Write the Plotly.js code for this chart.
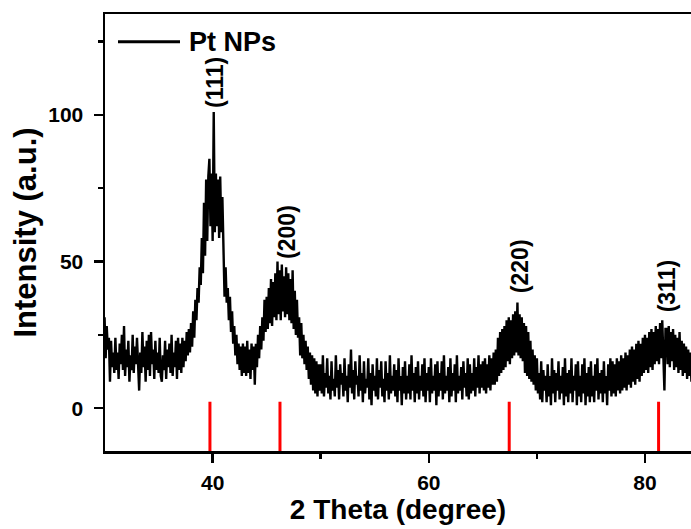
<!DOCTYPE html>
<html>
<head>
<meta charset="utf-8">
<script src="https://cdn.plot.ly/plotly-3.0.1.min.js"></script>
<style>html,body{margin:0;padding:0;background:#fff;}#chart{width:691px;height:529px;}</style>
</head>
<body>
<div id="chart"></div>
<script>
// 2-theta sampling: start and step of the scan (degrees)
const scanStart = 30.0;
const scanStep = 0.1;
// Intensity, one row per degree (30.0-30.9, 31.0-31.9, ... 84.0-84.4)
const intensity = [
  31, 17, 28, 20, 24, 9, 23, 14, 19, 12,
  24, 13, 19, 10, 22, 15, 25, 13, 28, 11,
  20, 14, 23, 9, 18, 13, 25, 12, 21, 15,
  24, 11, 6, 19, 12, 26, 14, 21, 9, 23,
  13, 25, 11, 26, 15, 20, 10, 23, 13, 19,
  12, 24, 11, 9, 18, 13, 23, 10, 20, 14,
  22, 12, 25, 11, 19, 14, 23, 10, 24, 13,
  22, 12, 24, 14, 23, 16, 26, 18, 27, 19,
  29, 21, 33, 24, 37, 30, 41, 36, 48, 42,
  58, 46, 70, 52, 78, 57, 79, 85, 62, 80,
  57, 101, 60, 80, 62, 78, 58, 79, 60, 72,
  50, 38, 48, 36, 41, 30, 38, 26, 33, 22,
  28, 18, 25, 15, 22, 13, 21, 11, 22, 12,
  21, 11, 23, 12, 20, 10, 22, 13, 21, 8,
  22, 14, 25, 17, 28, 20, 31, 23, 37, 26,
  38, 27, 41, 29, 44, 28, 43, 31, 46, 30,
  50, 32, 47, 30, 49, 33, 45, 31, 48, 32,
  46, 30, 44, 29, 47, 27, 40, 25, 37, 24,
  31, 18, 29, 17, 25, 15, 23, 13, 21, 10,
  19, 8, 18, 6, 17, 5, 16, 4, 15, 6,
  15, 5, 18, 4, 12, 7, 17, 5, 11, 3,
  16, 6, 10, 4, 18, 7, 13, 3, 15, 8,
  12, 4, 17, 6, 11, 2, 15, 7, 20, 5,
  13, 3, 16, 8, 11, 4, 18, 6, 12, 2,
  16, 5, 10, 7, 17, 3, 12, 1, 15, 6,
  11, 4, 17, 3, 13, 7, 16, 4, 10, 2,
  16, 6, 12, 3, 18, 5, 11, 6, 15, 4,
  13, 2, 17, 6, 11, 1, 14, 5, 16, 3,
  11, 5, 15, 3, 18, 6, 12, 2, 14, 5,
  16, 3, 11, 6, 15, 4, 17, 2, 12, 6,
  14, 2, 17, 5, 11, 6, 15, 1, 16, 4,
  12, 6, 16, 3, 18, 5, 11, 6, 14, 2,
  17, 4, 12, 6, 15, 2, 18, 5, 11, 6,
  14, 3, 16, 7, 12, 4, 17, 3, 15, 5,
  12, 6, 17, 4, 14, 7, 18, 5, 15, 7,
  16, 6, 17, 5, 15, 7, 18, 6, 17, 8,
  19, 8, 20, 9, 24, 11, 26, 12, 27, 13,
  28, 14, 30, 16, 31, 15, 30, 17, 32, 18,
  33, 19, 36, 18, 32, 17, 31, 16, 29, 12,
  28, 11, 26, 10, 23, 9, 20, 8, 18, 6,
  17, 5, 12, 3, 16, 2, 13, 6, 11, 2,
  15, 4, 11, 1, 17, 5, 13, 2, 12, 6,
  16, 3, 11, 5, 14, 1, 17, 4, 12, 2,
  13, 5, 17, 2, 11, 6, 15, 1, 16, 4,
  11, 2, 15, 5, 17, 1, 12, 4, 14, 2,
  16, 4, 11, 2, 15, 6, 17, 3, 12, 5,
  13, 2, 16, 5, 11, 1, 15, 6, 17, 4,
  16, 5, 15, 4, 17, 6, 16, 5, 18, 6,
  17, 7, 19, 6, 18, 8, 20, 7, 21, 9,
  20, 8, 22, 10, 23, 9, 22, 11, 24, 12,
  25, 13, 24, 12, 26, 14, 27, 13, 26, 15,
  28, 16, 27, 15, 29, 17, 30, 16, 6, 27,
  27, 15, 28, 14, 26, 16, 27, 13, 25, 14,
  24, 12, 26, 13, 23, 11, 22, 12, 21, 10,
  20, 11, 19, 9, 20
];
// Pt reference (JCPDS) reflection positions and labels
const refPos = [39.75, 46.23, 67.44, 81.26];
const refTop = 2.2;
const hklLabels = ["(111)", "(200)", "(220)", "(311)"];
const seriesName = "Pt NPs";
const xTickVals = [40, 60, 80];
const yTickVals = [0, 50, 100];

const xRange = [30.04, 84.26];
const yRange = [-14.6, 134.4];

const twoTheta = intensity.map((_, i) => +(scanStart + i * scanStep).toFixed(2));

const refX = [], refY = [];
refPos.forEach(p => { refX.push(p, p, null); refY.push(yRange[0], refTop, null); });

const FONT = "Arial, 'Liberation Sans', sans-serif";

const traces = [
  {x: twoTheta, y: intensity, type: 'scatter', mode: 'lines', name: seriesName,
   line: {color: '#000', width: 2.4, shape: 'linear'}, showlegend: false},
  {x: refX, y: refY, type: 'scatter', mode: 'lines', name: 'Pt reference',
   line: {color: '#ff0000', width: 3}, showlegend: false}
];

const shifts = [5, 7, 11, 8];
const labelY = [111.2, 60.1, 48.5, 41.4];
const annotations = hklLabels.map((t, i) => ({
  x: refPos[i], y: labelY[i], xref: 'x', yref: 'y', text: t, showarrow: false,
  textangle: -90, xshift: shifts[i], xanchor: 'center', yanchor: 'middle',
  font: {family: FONT, size: 23, color: '#000', weight: 'bold'}
}));
annotations.push({
  xref: 'paper', yref: 'paper', x: (187 - 105) / 586, y: (451 - 42) / 437,
  xanchor: 'left', yanchor: 'middle', text: seriesName, showarrow: false,
  font: {family: FONT, size: 27, color: '#000', weight: 'bold'}
});

const layout = {
  width: 691, height: 529,
  margin: {l: 105, r: 0, t: 14, b: 78, pad: 0},
  paper_bgcolor: '#fff', plot_bgcolor: '#fff',
  showlegend: false,
  xaxis: {
    range: xRange, tickvals: xTickVals, ticks: 'outside', ticklen: 9, tickwidth: 2.5,
    tickcolor: '#000', showline: true, linecolor: '#000', linewidth: 2.5, mirror: true,
    showgrid: false, zeroline: false, ticklabelstandoff: 2,
    minor: {tickvals: [30, 50, 70], ticks: 'outside', ticklen: 5, tickwidth: 2.5, tickcolor: '#000', showgrid: false},
    tickfont: {family: FONT, size: 21, color: '#000', weight: 'bold'},
    title: {text: '2 Theta (degree)', standoff: 7, font: {family: FONT, size: 28, color: '#000', weight: 'bold'}}
  },
  yaxis: {
    range: yRange, tickvals: yTickVals, ticks: 'outside', ticklen: 9, tickwidth: 2.5,
    tickcolor: '#000', showline: true, linecolor: '#000', linewidth: 2.5, mirror: false,
    showgrid: false, zeroline: false, ticklabelstandoff: 6,
    minor: {tickvals: [25, 75, 125], ticks: 'outside', ticklen: 5, tickwidth: 2.5, tickcolor: '#000', showgrid: false},
    tickfont: {family: FONT, size: 21, color: '#000', weight: 'bold'},
    title: {text: 'Intensity (a.u.)', standoff: 3, font: {family: FONT, size: 31, color: '#000', weight: 'bold'}}
  },
  annotations: annotations,
  shapes: [{type: 'line', xref: 'paper', yref: 'paper',
    x0: (118 - 105) / 586, x1: (180 - 105) / 586, y0: (451 - 41.7) / 437, y1: (451 - 41.7) / 437,
    line: {color: '#000', width: 3}}]
};

Plotly.newPlot('chart', traces, layout, {displayModeBar: false, staticPlot: true});
</script>
</body>
</html>
